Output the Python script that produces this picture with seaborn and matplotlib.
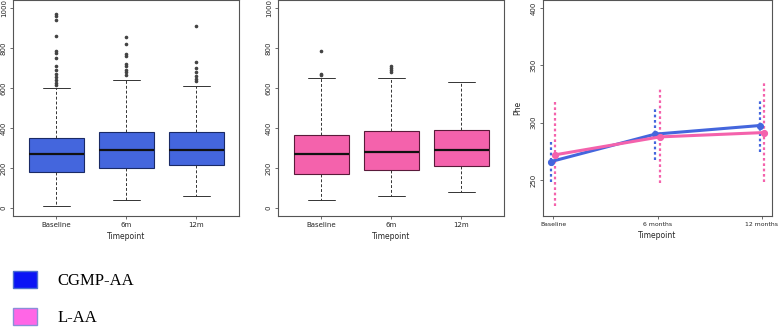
import numpy as np
import pandas as pd
import matplotlib.pyplot as plt
import seaborn as sns
from matplotlib.patches import Patch

sns.set_style("white")

# box summary values
box_labels = ["Baseline", "6m", "12m"]

cgmp_lo = [10, 40, 60]
cgmp_q1 = [180, 200, 217]
cgmp_med = [270, 290, 290]
cgmp_q3 = [350, 380, 380]
cgmp_hi = [600, 640, 610]
cgmp_fliers = [
    [970, 960, 940, 860, 785, 775, 750, 710, 690, 670, 655, 640, 625, 615],
    [853, 822, 770, 762, 722, 708, 692, 678, 667],
    [912, 732, 700, 680, 662, 645, 633],
]

laa_lo = [40, 60, 80]
laa_q1 = [170, 190, 210]
laa_med = [270, 280, 290]
laa_q3 = [365, 385, 390]
laa_hi = [650, 650, 630]
laa_fliers = [
    [783, 672, 665],
    [708, 698, 688, 680],
    [],
]

# mean Phe with interval ends
time_labels = ["Baseline", "6 months", "12 months"]
groups = ["CGMP-AA", "L-AA"]
phe_mean = {"CGMP-AA": [266, 290, 297.5], "L-AA": [272, 287.6, 291.4]}
phe_low = {"CGMP-AA": [248.5, 267.5, 274.8], "L-AA": [227.6, 247, 248.5]}
phe_high = {"CGMP-AA": [283.5, 311.8, 320], "L-AA": [319, 329, 335]}

blue = "#4466dd"
pink = "#f462ac"

fig = plt.figure(figsize=(7.78, 3.29), dpi=100)
W, H = 778, 329


def add_ax(l, r, t, b):
    return fig.add_axes([l / W, 1 - b / H, (r - l) / W, (b - t) / H])


ax1 = add_ax(13, 239, 0, 216)
ax2 = add_ax(278, 504, 0, 216)
ax3 = add_ax(543, 772, 0, 216)


def draw_box(ax, lo, q1, med, q3, hi, fl, face, edge):
    stats = []
    for i in range(len(box_labels)):
        stats.append(dict(whislo=lo[i], q1=q1[i], med=med[i], q3=q3[i],
                          whishi=hi[i], fliers=fl[i], label=box_labels[i]))
    ax.bxp(stats, positions=range(3), widths=0.79, patch_artist=True,
           boxprops=dict(facecolor=face, edgecolor=edge, linewidth=0.8),
           medianprops=dict(color="#111111", linewidth=1.6),
           whiskerprops=dict(color="#333333", linewidth=0.7, linestyle=(0, (3, 2))),
           capprops=dict(color="#333333", linewidth=0.7),
           flierprops=dict(marker="o", markersize=1.6, markerfacecolor="#444444",
                           markeredgecolor="#444444"))
    ax.set_xlim(-0.62, 2.61)
    ax.set_ylim(-40, 1040)
    ax.set_yticks([0, 200, 400, 600, 800, 1000])
    ax.set_xlabel("Timepoint", fontsize=5.5, labelpad=3)


draw_box(ax1, cgmp_lo, cgmp_q1, cgmp_med, cgmp_q3, cgmp_hi, cgmp_fliers, blue, "#1a2a66")
draw_box(ax2, laa_lo, laa_q1, laa_med, laa_q3, laa_hi, laa_fliers, pink, "#5a1a3a")

rows = []
for g in groups:
    for t, m in zip(time_labels, phe_mean[g]):
        rows.append({"Timepoint": t, "Phe": m, "group": g})
df = pd.DataFrame(rows)

sns.pointplot(data=df, x="Timepoint", y="Phe", hue="group", order=time_labels,
              hue_order=groups, palette=[blue, pink], dodge=0.045, errorbar=None,
              markers="o", markersize=3.5, linewidth=2.2, legend=False, ax=ax3)

for line, g, c in zip(ax3.lines[:2], groups, [blue, pink]):
    xs = line.get_xdata()
    ax3.vlines(xs, phe_low[g], phe_high[g], colors=c, linewidth=1.6,
               linestyles=(0, (1.2, 1.2)), zorder=1)

ax3.set_xlim(-0.096, 2.096)
ax3.set_ylim(218.6, 407)
ax3.set_yticks([250, 300, 350, 400])
ax3.set_xlabel("Timepoint", fontsize=5.5, labelpad=3)
ax3.set_ylabel("Phe", fontsize=5.5, labelpad=6)

for ax in (ax1, ax2, ax3):
    for s in ax.spines.values():
        s.set_color("#555555")
        s.set_linewidth(0.8)
    ax.tick_params(axis="both", labelsize=5, length=2.5, width=0.6, color="#555555",
                   left=True, bottom=True, pad=2)
    for lab in ax.get_yticklabels():
        lab.set_rotation(90)
        lab.set_va("center")

ax3.tick_params(axis="x", labelsize=4.4)

handles = [Patch(facecolor="#0a14f5", edgecolor="#4a6fd0", linewidth=1),
           Patch(facecolor="#ff66e6", edgecolor="#8a8fd8", linewidth=1)]
leg = fig.legend(handles, groups, loc="upper left", bbox_to_anchor=(13 / W, 1 - 271 / H),
                 frameon=False, borderpad=0, borderaxespad=0, handlelength=1.45,
                 handleheight=1.2, handletextpad=1.2, labelspacing=1.1,
                 prop={"family": "Liberation Serif", "size": 12})
for t in leg.get_texts():
    t.set_color("black")

fig.savefig("out.png", dpi=100)
